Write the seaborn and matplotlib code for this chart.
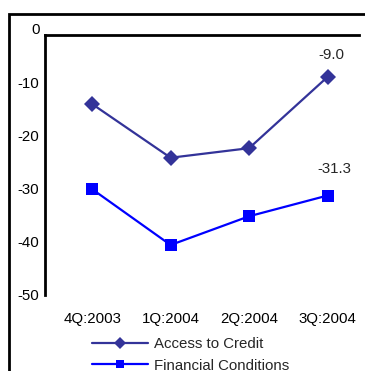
import matplotlib
matplotlib.use("Agg")
import matplotlib.pyplot as plt
from matplotlib.patches import Rectangle
import seaborn as sns
import pandas as pd
import copy

quarters = ["4Q:2003", "1Q:2004", "2Q:2004", "3Q:2004"]
access_to_credit = [-14.1, -24.2, -22.4, -9.0]
financial_conditions = [-30.1, -40.6, -35.2, -31.3]
series_names = ["Access to Credit", "Financial Conditions"]
y_ticks = [0, -10, -20, -30, -40, -50]

df = pd.DataFrame({
    "quarter": quarters * 2,
    "value": access_to_credit + financial_conditions,
    "series": [series_names[0]] * len(quarters) + [series_names[1]] * len(quarters),
})

FS = 10.8
sns.set_theme(style="white")
plt.rcParams["font.family"] = ["Liberation Sans", "DejaVu Sans"]
plt.rcParams["font.size"] = FS

W, H = 365, 371
fig = plt.figure(figsize=(W / 100, H / 100), dpi=100)
fig.patch.set_facecolor("white")

# outer chart-area frame (runs off the right and bottom edges)
fig.patches.append(Rectangle((9 / W, -0.2), 1.2, 1 - 14 / H + 0.2,
                             transform=fig.transFigure, fill=False,
                             edgecolor="black", linewidth=2))

ax = fig.add_axes([45 / W, 1 - 295 / H, (359 - 45) / W, (295 - 29) / H])
ax.set_facecolor("none")

palette = {series_names[0]: "#333399", series_names[1]: "#0000FF"}
markers = {series_names[0]: "D", series_names[1]: "s"}
sns.lineplot(data=df, x="quarter", y="value", hue="series", style="series",
             palette=palette, markers=markers, dashes=False, linewidth=1.6,
             markersize=8.5, markeredgewidth=0, ax=ax, legend=True)

ax.set_ylim(-50, 0)
ax.set_xlim(-0.6, 3.4)
ax.set_yticks(y_ticks)
ax.set_yticklabels([str(t) for t in y_ticks])
ax.set_xlabel("")
ax.set_ylabel("")
ax.tick_params(axis="both", length=0, labelsize=FS, colors="black")
ax.tick_params(axis="y", pad=4)
ax.tick_params(axis="x", pad=12)

top_edge = -1.15
for side in ["right", "bottom"]:
    ax.spines[side].set_visible(False)
ax.spines["left"].set_bounds(-50, top_edge)
ax.spines["top"].set_position(("data", top_edge))
for side in ["left", "top"]:
    ax.spines[side].set_color("black")
    ax.spines[side].set_linewidth(2)

# value labels on the last quarter
ax.annotate(f"{access_to_credit[-1]:.1f}", (3, access_to_credit[-1]),
            xytext=(3, 16), textcoords="offset points", ha="center",
            va="center", fontsize=FS)
ax.annotate(f"{financial_conditions[-1]:.1f}", (3, financial_conditions[-1]),
            xytext=(5, 19), textcoords="offset points", ha="center",
            va="center", fontsize=FS)

handles, labels = ax.get_legend_handles_labels()
ax.get_legend().remove()
small = []
for h in handles:
    h2 = copy.copy(h)
    h2.set_markersize(6)
    small.append(h2)
fig.legend(small, labels, loc="upper left",
           bbox_to_anchor=(92 / W, 1 - 337 / H), frameon=False,
           borderpad=0, borderaxespad=0, handlelength=3.7,
           handletextpad=0.4, labelspacing=0.5, fontsize=FS)

fig.savefig("out.png", dpi=100)
